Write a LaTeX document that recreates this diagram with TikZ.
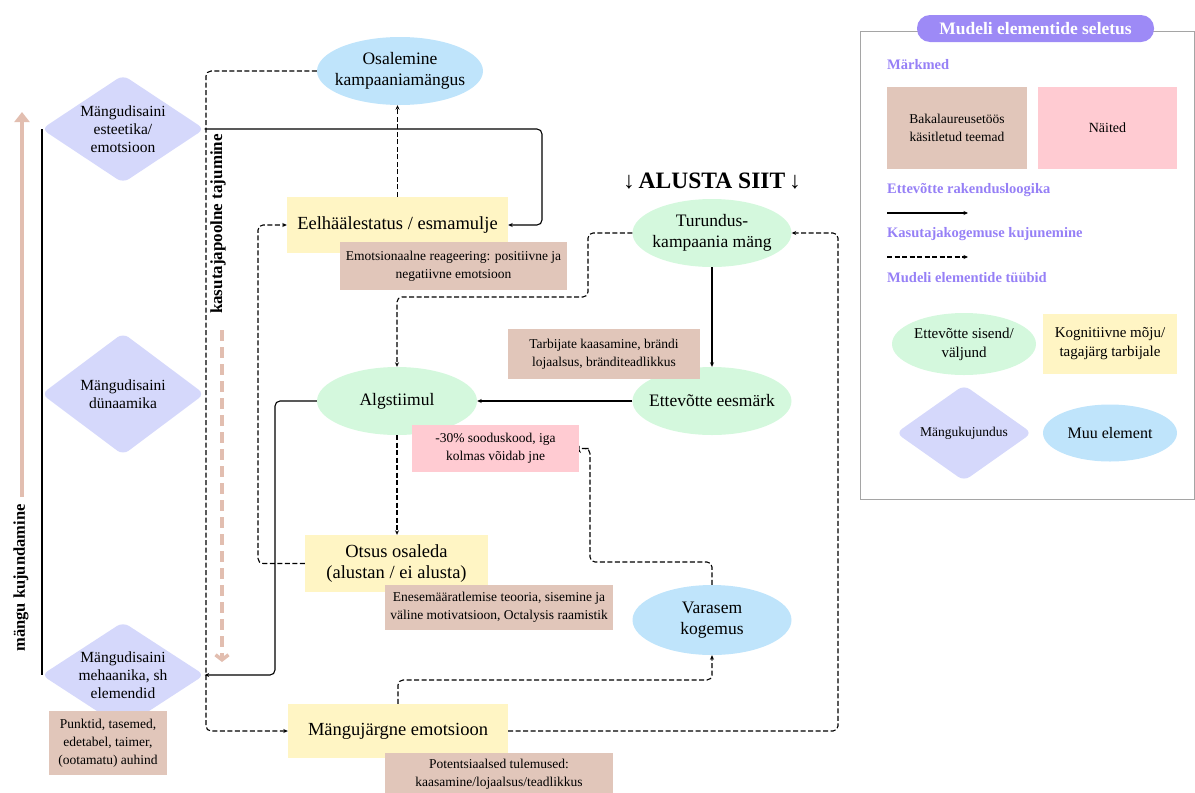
\documentclass[tikz,border=0pt]{standalone}
\usepackage{fontspec}
\setmainfont{Liberation Serif}
\usetikzlibrary{shapes.geometric,arrows.meta}
\definecolor{lav}{RGB}{213,216,251}
\definecolor{yel}{RGB}{255,245,196}
\definecolor{tanc}{RGB}{225,198,186}
\definecolor{pinkc}{RGB}{255,203,210}
\definecolor{grn}{RGB}{212,248,221}
\definecolor{blu}{RGB}{191,228,251}
\definecolor{purp}{RGB}{157,138,246}
\definecolor{purtxt}{RGB}{150,128,246}
\definecolor{salm}{RGB}{226,190,176}
\definecolor{legb}{RGB}{165,165,165}
\newcommand\fsz[2]{\fontsize{#1}{#2}\selectfont}
\begin{document}
\begin{tikzpicture}[x=1pt,y=-1pt,
 dia/.style={diamond,fill=lav,draw=none,rounded corners=7pt,inner sep=0pt,aspect=1.5},
 diat/.style={align=center,font=\fsz{15.5}{18},inner sep=0pt},
 ell/.style={ellipse,inner sep=0pt,draw=none},
 ellt/.style={align=center,font=\fsz{17.5}{20.5},inner sep=0pt},
 rbox/.style={rectangle,inner sep=0pt,align=center,font=\fsz{18.5}{21},fill=yel},
 note/.style={rectangle,inner sep=0pt,align=center,font=\fsz{13.5}{18},fill=tanc},
 ex/.style={note,fill=pinkc},
 sol/.style={line width=1.1pt,rounded corners=5pt,-{Stealth[length=4.5pt,width=4pt]}},
 dsh/.style={sol,dash pattern=on 5pt off 2.5pt},
 lhead/.style={anchor=west,font=\fsz{14.5}{17}\bfseries,text=purtxt,inner sep=0pt}
]
\useasboundingbox (0,0) rectangle (1195,793);

% left side
\draw[salm,line width=4pt,-{Triangle[length=10pt,width=15pt]}] (22,497) -- (22,112);
\node[rotate=90,font=\fsz{16.5}{18}\bfseries,inner sep=0pt] (mk) at (21,578) {mängu kujundamine};
\node[rotate=90,font=\fsz{17}{18}\bfseries,inner sep=0pt] (kt) at (218,224) {kasutajapoolne tajumine};
\draw[salm,line width=3.5pt,dash pattern=on 11pt off 6pt,-{Straight Barb[length=5pt,width=13pt]}] (222,330) -- (222,662);

\draw[line width=1.1pt] (42,129) -- (42,675);

\node[dia,minimum width=163pt,minimum height=108pt] (d1) at (123,129) {};
\node[diat] (d1t) at (d1) {Mängudisaini\\esteetika/\\emotsioon};
\node[dia,minimum width=163pt,minimum height=122pt] (d2) at (123,394) {};
\node[diat] (d2t) at (d2) {Mängudisaini\\dünaamika};
\node[dia,minimum width=163pt,minimum height=106pt] (d3) at (123,675) {};
\node[diat] (d3t) at (d3) {Mängudisaini\\mehaanika, sh\\elemendid};

% main nodes
\node[ell,fill=blu,minimum width=166pt,minimum height=68pt] (osal) at (400,71) {};
\node[ellt] (osalt) at (osal) {Osalemine\\kampaaniamängus};
\node[rbox,minimum width=221pt,minimum height=56pt] (eel) at (397.5,225) {Eelhäälestatus / esmamulje};
\node[font=\fsz{23.5}{26}\bfseries,inner sep=0pt] (al) at (712,181) {↓\,ALUSTA SIIT\,↓};
\node[ell,fill=grn,minimum width=159pt,minimum height=68pt] (tur) at (712,233) {};
\node[ellt] (turt) at (tur) {Turundus-\\kampaania mäng};
\node[ell,fill=grn,minimum width=159pt,minimum height=68pt] (eesm) at (712,401) {};
\node[ellt] (eesmt) at (eesm) {Ettevõtte eesmärk};
\node[ell,fill=grn,minimum width=160pt,minimum height=68pt] (alg) at (397,401) {};
\node[ellt] (algt) at (alg) {Algstiimul};
\node[rbox,minimum width=183pt,minimum height=57pt] (otsus) at (396.5,563.5) {Otsus osaleda\\(alustan / ei alusta)};
\node[ell,fill=blu,minimum width=159pt,minimum height=70pt] (var) at (712,620) {};
\node[ellt] (vart) at (var) {Varasem\\kogemus};
\node[rbox,minimum width=220pt,minimum height=54pt] (mang) at (398,731) {Mängujärgne emotsioon};

% connectors
\draw[dsh] (osal.west) -| (206,400) |- (mang.west);
\draw[sol] (d1.east) -| (542,180) |- (eel.east);
\draw[sol] (alg.west) -| (275,500) |- (d3.east);
\draw[dsh] (otsus.west) -| (258,400) |- (eel.west);
\draw[dsh] (eel.north) -- (eel.north |- osal.south);
\draw[dsh] (tur.west) -| (588,297) -| (alg.north);
\draw[sol] (tur.south) -- (eesm.north);
\draw[sol] (eesm.west) -- (alg.east);
\draw[dsh] (alg.south) -- (alg.south |- otsus.north);
\draw[dsh] (var.north) |- (590,562) |- (584,448.5) -- (579,448.5);
\draw[dsh] (mang.north) |- (712,680) -- (var.south);
\draw[dsh] (mang.east) -| (838,400) |- (tur.east);

% notes
\node[note,minimum width=118pt,minimum height=64pt] (pkt) at (108,743) {Punktid, tasemed,\\edetabel, taimer,\\(ootamatu) auhind};
\node[note,minimum width=227pt,minimum height=48pt] (emo) at (453.5,266) {Emotsionaalne reageering: positiivne ja\\negatiivne emotsioon};
\node[note,minimum width=192pt,minimum height=50pt] (tarb) at (604,354) {Tarbijate kaasamine, brändi\\lojaalsus, bränditeadlikkus};
\node[ex,minimum width=167pt,minimum height=47pt] (sood) at (495.5,448.5) {-30\% sooduskood, iga\\kolmas võidab jne};
\node[note,minimum width=228pt,minimum height=45pt] (enes) at (499,607.5) {Enesemääratlemise teooria, sisemine ja\\väline motivatsioon, Octalysis raamistik};
\node[note,minimum width=228pt,minimum height=42pt] (pot) at (499,774) {Potentsiaalsed tulemused:\\kaasamine/lojaalsus/teadlikkus};

% legend
\draw[legb,line width=0.8pt] (860,31) rectangle (1194,499);
\node[fill=purp,rounded corners=13pt,minimum width=237pt,minimum height=27pt,inner sep=0pt,text=white,font=\fsz{17.5}{18}\bfseries] (lt) at (1035.5,28.5) {Mudeli elementide seletus};
\node[lhead] (lh1) at (887,65) {Märkmed};
\node[note,minimum width=140pt,minimum height=82pt] (lbak) at (957,128) {Bakalaureusetöös\\käsitletud teemad};
\node[ex,minimum width=139pt,minimum height=82pt,font=\fsz{14}{18}] (lnai) at (1107.5,128) {Näited};
\node[lhead] (lh2) at (887,190) {Ettevõtte rakendusloogika};
\coordinate (la1) at (887,213);
\coordinate (la2) at (968,213);
\draw[sol] (la1) -- (la2);
\node[lhead] (lh3) at (887,234) {Kasutajakogemuse kujunemine};
\coordinate (lb1) at (887,257);
\coordinate (lb2) at (968,257);
\draw[dsh] (lb1) -- (lb2);
\node[lhead] (lh4) at (887,278) {Mudeli elementide tüübid};
\node[ell,fill=grn,minimum width=144pt,minimum height=62pt] (lg) at (964,344) {};
\node[ellt,font=\fsz{15}{19}] (lgt) at (lg) {Ettevõtte sisend/\\väljund};
\node[rbox,minimum width=134pt,minimum height=60pt,font=\fsz{15}{19}] (ly) at (1110,344) {Kognitiivne mõju/\\tagajärg tarbijale};
\node[dia,minimum width=136pt,minimum height=96pt] (ld) at (964,433) {};
\node[diat,font=\fsz{13.5}{16}] (ldt) at (ld) {Mängukujundus};
\node[ell,fill=blu,minimum width=134pt,minimum height=57pt] (lbl) at (1110,433) {};
\node[ellt,font=\fsz{16}{19}] (lblt) at (lbl) {Muu element};
\end{tikzpicture}
\end{document}
